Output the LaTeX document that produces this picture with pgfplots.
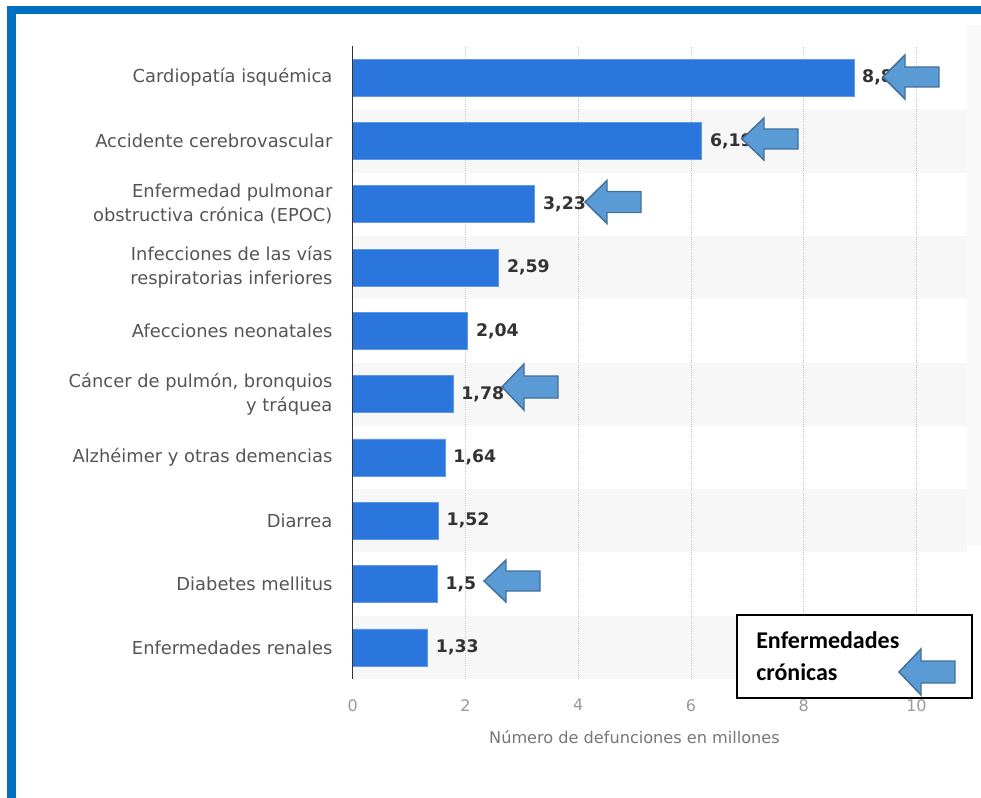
\documentclass[border=0pt]{standalone}
\usepackage{fontspec}
\setmainfont{DejaVu Sans}
\newfontfamily\carlito{Carlito}
\usepackage{pgfplots}
\pgfplotsset{compat=1.18}
\definecolor{barblue}{HTML}{2A76DD}
\definecolor{frameblue}{HTML}{0070C0}
\definecolor{arrowfill}{HTML}{5B9BD5}
\definecolor{arrowdraw}{HTML}{41719C}
\definecolor{stripe}{HTML}{F7F7F7}
\definecolor{labelgray}{HTML}{555555}
\definecolor{valgray}{HTML}{333333}
\definecolor{tickgray}{HTML}{999999}
\definecolor{titlegray}{HTML}{777777}
\definecolor{gridgray}{HTML}{C8C8C8}
\newcommand{\larrow}[4]{%
 \filldraw[fill=arrowfill, draw=arrowdraw, line width=1.1pt, line join=miter]
 (#1,#2) -- ++(22,-#3) -- ++(0,#3-#4) -- ++(34,0) -- ++(0,2*#4) -- ++(-34,0) -- ++(0,#3-#4) -- cycle;}
\begin{document}
\begin{tikzpicture}
\begin{scope}[x=0.75pt,y=-0.75pt]
 \fill[white] (0,0) rectangle (981,798);
 \fill[frameblue] (7,6) rectangle (981,14);
 \fill[frameblue] (7,6) rectangle (16,798);
 \fill[black!2.5] (967,25) rectangle (981,545);
\end{scope}
\begin{axis}[
 at={(264.5pt,-509.25pt)}, anchor=south west, scale only axis,
 width=460.5pt, height=474.75pt,
 xmin=0, xmax=10.89, ymin=0.5, ymax=10.5,
 axis line style={draw=none},
 major tick length=0pt,
 xtick={0,2,4,6,8,10},
 ytick={1,2,3,4,5,6,7,8,9,10},
 yticklabels={{Enfermedades renales},{Diabetes mellitus},{Diarrea},{Alzhéimer y otras demencias},{Cáncer de pulmón, bronquios\\y tráquea},{Afecciones neonatales},{Infecciones de las vías\\respiratorias inferiores},{Enfermedad pulmonar\\obstructiva crónica (EPOC)},{Accidente cerebrovascular},{Cardiopatía isquémica}},
 yticklabel style={font=\fontsize{13.4}{18}\selectfont, color=labelgray, align=right, inner sep=0pt, xshift=-15pt},
 xticklabel style={font=\fontsize{12}{14}\selectfont, color=tickgray, inner sep=0pt, yshift=-15pt},
 /pgf/number format/assume math mode=true,
 /pgf/number format/use comma,
 /pgf/number format/precision=2,
 xlabel={Número de defunciones en millones},
 xlabel style={font=\fontsize{12.1}{14}\selectfont, color=titlegray, at={(axis description cs:0.459,0)}, anchor=center, yshift=-43.5pt},
 clip=false,
 nodes near coords,
 point meta=x,
 nodes near coords style={anchor=west, inner sep=0pt, xshift=6pt, font=\bfseries\fontsize{13}{15}\selectfont, color=valgray},
]
\fill[stripe] (axis cs:0,0.5) rectangle (axis cs:10.89,1.5);
\fill[stripe] (axis cs:0,2.5) rectangle (axis cs:10.89,3.5);
\fill[stripe] (axis cs:0,4.5) rectangle (axis cs:10.89,5.5);
\fill[stripe] (axis cs:0,6.5) rectangle (axis cs:10.89,7.5);
\fill[stripe] (axis cs:0,8.5) rectangle (axis cs:10.89,9.5);
\draw[gridgray, densely dotted, line width=0.6pt] (axis cs:2,0.5) -- (axis cs:2,10.5);
\draw[gridgray, densely dotted, line width=0.6pt] (axis cs:4,0.5) -- (axis cs:4,10.5);
\draw[gridgray, densely dotted, line width=0.6pt] (axis cs:6,0.5) -- (axis cs:6,10.5);
\draw[gridgray, densely dotted, line width=0.6pt] (axis cs:8,0.5) -- (axis cs:8,10.5);
\draw[gridgray, densely dotted, line width=0.6pt] (axis cs:10,0.5) -- (axis cs:10,10.5);
\addplot[xbar, bar width=0.585, fill=barblue, draw=barblue!75!white, line width=0.5pt] coordinates {
 (1.33,1) (1.5,2) (1.52,3) (1.64,4) (1.78,5) (2.04,6) (2.59,7) (3.23,8) (6.19,9) (8.89,10)};
\draw[valgray, line width=1.1pt] (axis cs:0,0.5) -- (axis cs:0,10.5);
\end{axis}
\begin{scope}[x=0.75pt,y=-0.75pt]
 \larrow{883}{77}{22}{10}
 \larrow{742}{139}{21}{10}
 \larrow{585}{202}{21.5}{10.5}
 \larrow{502}{387}{23}{11}
 \larrow{484}{581}{21}{10}
 \draw[fill=white, line width=0.9pt] (737,615) rectangle (972,698);
 \node[anchor=base west, inner sep=0pt, font=\carlito\bfseries\fontsize{18}{21}\selectfont] at (756,648) {Enfermedades};
 \node[anchor=base west, inner sep=0pt, font=\carlito\bfseries\fontsize{18}{21}\selectfont] at (756,680) {crónicas};
 \larrow{899}{672}{23}{11}
\end{scope}
\end{tikzpicture}
\end{document}
